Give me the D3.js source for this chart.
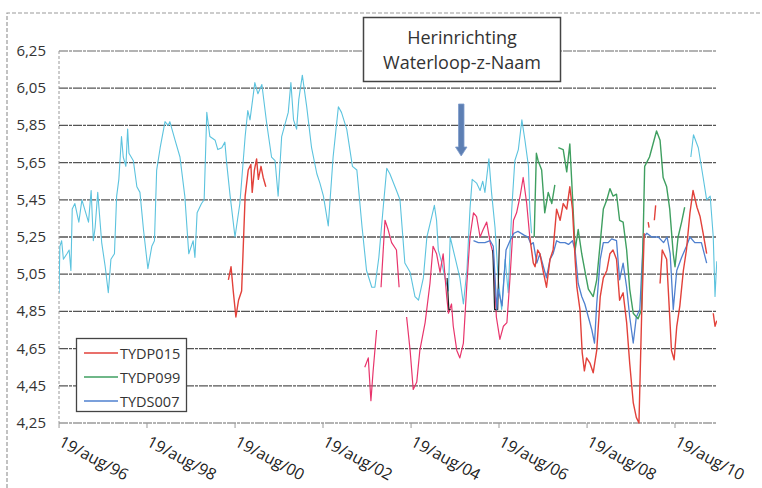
<!DOCTYPE html>
<html><head><meta charset="utf-8">
<script src="https://cdn.jsdelivr.net/npm/d3@7"></script>
<style>body{margin:0;background:#fff}svg{display:block}text{font-family:"Open Sans",sans-serif}</style>
</head><body><svg id="c" width="762" height="488"></svg>
<script>
// ---- data (decimal year, value); null = gap ----
const yTicks = [4.25,4.45,4.65,4.85,5.05,5.25,5.45,5.65,5.85,6.05,6.25];
const xTickYears = [1996,1998,2000,2002,2004,2006,2008,2010];
const xTickLabels = ["19/aug/96","19/aug/98","19/aug/00","19/aug/02","19/aug/04","19/aug/06","19/aug/08","19/aug/10"];
const legendNames = ["TYDP015","TYDP099","TYDS007"];
const annotation = ["Herinrichting","Waterloop-z-Naam"];

const cyanSeries = [[1996.63,4.95],[1996.65,5.20],[1996.69,5.23],[1996.73,5.13],[1996.81,5.16],[1996.86,5.18],[1996.90,5.07],[1996.93,5.40],[1996.99,5.43],[1997.08,5.33],[1997.15,5.45],[1997.30,5.33],[1997.36,5.50],[1997.41,5.23],[1997.45,5.30],[1997.51,5.49],[1997.60,5.22],[1997.68,5.09],[1997.75,4.95],[1997.81,5.13],[1997.89,5.16],[1997.94,5.47],[1997.99,5.56],[1998.05,5.79],[1998.09,5.68],[1998.15,5.63],[1998.19,5.83],[1998.22,5.70],[1998.32,5.66],[1998.40,5.52],[1998.47,5.49],[1998.55,5.29],[1998.65,5.08],[1998.74,5.20],[1998.80,5.23],[1998.85,5.61],[1998.93,5.73],[1999.04,5.87],[1999.11,5.85],[1999.15,5.87],[1999.27,5.77],[1999.38,5.68],[1999.49,5.47],[1999.58,5.16],[1999.68,5.23],[1999.72,5.14],[1999.77,5.38],[1999.87,5.43],[1999.93,5.45],[1999.99,5.92],[2000.06,5.79],[2000.18,5.77],[2000.24,5.72],[2000.33,5.73],[2000.40,5.76],[2000.44,5.65],[2000.52,5.47],[2000.63,5.25],[2000.74,5.43],[2000.86,5.79],[2000.92,5.93],[2000.97,5.88],[2001.08,6.08],[2001.15,6.02],[2001.24,6.07],[2001.35,5.86],[2001.46,5.68],[2001.54,5.66],[2001.61,5.47],[2001.69,5.79],[2001.77,5.86],[2001.84,5.92],[2001.90,6.08],[2001.96,5.88],[2002.03,5.83],[2002.08,5.99],[2002.16,6.12],[2002.26,5.95],[2002.37,5.73],[2002.49,5.59],[2002.56,5.54],[2002.64,5.47],[2002.75,5.31],[2002.86,5.68],[2002.98,5.95],[2003.05,5.92],[2003.17,5.83],[2003.30,5.63],[2003.40,5.61],[2003.52,5.30],[2003.62,5.07],[2003.74,4.98],[2003.81,4.98],[2003.90,5.14],[2004.00,5.41],[2004.08,5.62],[2004.15,5.59],[2004.30,5.50],[2004.38,5.45],[2004.49,5.11],[2004.61,5.06],[2004.72,4.93],[2004.80,4.91],[2004.91,5.03],[2004.99,5.25],[2005.10,5.36],[2005.16,5.42],[2005.21,5.34],[2005.25,5.18],[2005.33,5.11],[2005.40,5.03],[2005.48,4.96],[2005.52,5.25],[2005.63,5.14],[2005.74,5.03],[2005.82,4.89],[2005.90,5.07],[2005.97,5.40],[2006.02,5.56],[2006.12,5.54],[2006.20,5.50],[2006.26,5.55],[2006.31,5.49],[2006.40,5.67],[2006.46,5.49],[2006.54,5.30],[2006.61,5.03],[2006.69,4.86],[2006.77,5.13],[2006.84,4.95],[2006.92,5.40],[2006.99,5.66],[2007.07,5.72],[2007.15,5.88],[2007.22,5.77],[2007.30,5.63],[2007.33,5.40],[2007.37,5.27],null,[2010.99,5.68],[2011.05,5.80],[2011.16,5.73],[2011.27,5.57],[2011.35,5.45],[2011.43,5.47],[2011.50,5.25],[2011.54,4.93],[2011.58,5.12]];

const pinkSeries = [[2003.58,4.55],[2003.66,4.60],[2003.72,4.37],[2003.77,4.53],[2003.85,4.75],null,[2003.95,4.98],[2004.04,5.34],[2004.11,5.29],[2004.19,5.22],[2004.30,5.18],[2004.36,4.98],null,[2004.53,4.82],[2004.61,4.64],[2004.68,4.43],[2004.76,4.47],[2004.83,4.64],[2004.95,4.79],[2005.06,5.00],[2005.13,5.20],[2005.21,5.16],[2005.29,5.06],[2005.36,5.16],[2005.44,4.93],[2005.48,4.84],[2005.55,4.89],[2005.59,4.77],[2005.67,4.64],[2005.74,4.60],[2005.82,4.68],[2005.90,5.00],[2005.97,5.25],[2006.05,5.38],[2006.12,5.36],[2006.20,5.25],[2006.27,5.29],[2006.35,5.33],[2006.43,5.22],[2006.50,5.16],[2006.57,4.82],[2006.65,4.70],[2006.73,4.77],[2006.81,4.79],[2006.88,5.03],[2006.96,5.34],[2007.03,5.38],[2007.11,5.47],[2007.18,5.57],[2007.26,5.43],[2007.33,5.25]];

const tydp015 = [[2000.48,5.02],[2000.54,5.09],[2000.59,4.96],[2000.65,4.82],[2000.71,4.91],[2000.78,4.96],[2000.86,5.47],[2000.93,5.61],[2000.99,5.64],[2001.02,5.49],[2001.07,5.61],[2001.12,5.67],[2001.16,5.56],[2001.22,5.63],[2001.27,5.57],[2001.33,5.52],null,[2007.33,5.25],[2007.41,5.11],[2007.45,5.09],[2007.51,5.18],[2007.56,5.16],[2007.64,5.06],[2007.71,4.98],[2007.79,5.13],[2007.86,5.18],[2007.94,5.40],[2008.02,5.34],[2008.09,5.43],[2008.17,5.40],[2008.24,5.52],[2008.30,5.40],[2008.36,5.13],[2008.40,4.98],[2008.47,4.86],[2008.52,4.63],[2008.57,4.53],[2008.62,4.60],[2008.70,4.57],[2008.77,4.52],[2008.85,4.64],[2008.93,4.93],[2009.00,5.03],[2009.08,5.07],[2009.15,5.16],[2009.22,5.18],[2009.30,5.13],[2009.37,4.91],[2009.45,4.95],[2009.53,4.79],[2009.60,4.57],[2009.68,4.36],[2009.75,4.28],[2009.81,4.25],[2009.87,4.82],[2009.93,5.27],null,[2010.02,5.33],[2010.04,5.30],null,[2010.16,5.34],[2010.19,5.42],null,[2010.29,5.00],[2010.34,5.18],[2010.44,5.13],[2010.51,4.82],[2010.55,4.64],[2010.61,4.59],[2010.67,4.77],[2010.74,4.88],[2010.82,5.07],[2010.89,5.18],[2010.97,5.38],[2011.04,5.50],[2011.13,5.41],[2011.20,5.36],[2011.27,5.27],[2011.35,5.16],null,[2011.50,4.84],[2011.54,4.77],[2011.58,4.80]];

const tydp099 = [[2007.43,5.25],[2007.48,5.70],[2007.52,5.66],[2007.60,5.61],[2007.67,5.38],[2007.75,5.49],[2007.83,5.43],[2007.90,5.53],null,[2007.98,5.73],[2008.09,5.72],[2008.17,5.60],[2008.24,5.75],[2008.30,5.47],[2008.36,5.18],[2008.43,5.29],[2008.51,5.16],[2008.58,5.07],[2008.66,4.97],[2008.77,4.93],[2008.85,5.02],[2008.93,5.22],[2009.00,5.40],[2009.08,5.45],[2009.15,5.51],[2009.22,5.47],[2009.30,5.48],[2009.37,5.34],[2009.45,5.33],[2009.53,5.18],[2009.60,4.97],[2009.68,4.84],[2009.79,4.81],[2009.87,4.86],[2009.94,5.63],[2010.05,5.68],[2010.13,5.75],[2010.21,5.82],[2010.29,5.77],[2010.36,5.57],[2010.44,5.52],[2010.51,5.40],[2010.59,5.16],[2010.63,5.09],[2010.70,5.25],[2010.78,5.33],[2010.85,5.41]];

const tyds007 = [[2006.05,5.23],[2006.16,5.22],[2006.31,5.22],[2006.43,5.23],[2006.50,5.20],[2006.58,4.86],[2006.61,4.97],[2006.70,4.88],[2006.79,5.18],[2006.88,5.23],[2006.97,5.27],[2007.06,5.28],[2007.20,5.26],[2007.29,5.25],[2007.36,5.21],[2007.41,5.22],[2007.49,5.11],[2007.56,5.16],[2007.64,5.09],[2007.71,5.03],[2007.79,5.13],[2007.86,5.16],[2007.94,5.23],[2008.02,5.22],[2008.13,5.22],[2008.21,5.21],[2008.30,5.23],[2008.36,5.18],[2008.43,5.00],[2008.51,4.93],[2008.58,4.89],[2008.66,4.82],[2008.74,4.75],[2008.80,4.68],[2008.85,4.89],[2008.93,5.13],[2009.00,5.22],[2009.11,5.22],[2009.19,5.24],[2009.30,5.23],[2009.37,5.02],[2009.45,5.11],[2009.53,4.98],[2009.60,4.82],[2009.68,4.68],[2009.75,4.82],[2009.83,4.86],[2009.91,5.25],[2009.99,5.27],[2010.10,5.25],[2010.25,5.25],[2010.37,5.22],[2010.45,5.25],[2010.52,5.16],[2010.59,4.86],[2010.67,5.07],[2010.78,5.14],[2010.89,5.20],[2010.97,5.25],[2011.08,5.22],[2011.23,5.22],[2011.35,5.11]];

const blackSeries = [[2005.45,5.03],[2005.49,4.86],[2005.53,4.86],null,[2006.49,5.18],[2006.53,4.86],[2006.60,4.86],[2006.64,5.24]];

// ---- drawing ----
const svg = d3.select("#c");
const toDate = y => { const yr = Math.floor(y); const s = Date.UTC(yr,0,1), e = Date.UTC(yr+1,0,1); return new Date(s + (y-yr)*(e-s)); };
const x = d3.scaleUtc().domain([toDate(1996.63), toDate(2011.585)]).range([59, 717]);
const y = d3.scaleLinear().domain([4.25, 6.25]).range([423, 51]);

// outer frame
svg.append("path").attr("d","M7,488 L7,13 L762,13").attr("fill","none").attr("stroke","#9a9a9a").attr("stroke-width",1.2).attr("stroke-dasharray","4,2");

// gridlines
svg.append("g").selectAll("line").data(yTicks).join("line")
  .attr("x1",59).attr("x2",717).attr("y1",d=>y(d)).attr("y2",d=>y(d))
  .attr("stroke",(d,i)=> (i===0||i===yTicks.length-1) ? "#9a9a9a" : "#555")
  .attr("stroke-width",1.3).attr("stroke-dasharray","9,1,3,1");
// left axis
svg.append("line").attr("x1",59).attr("x2",59).attr("y1",51).attr("y2",423).attr("stroke","#999").attr("stroke-dasharray","3,2");
// y labels
svg.append("g").selectAll("text").data(yTicks).join("text")
  .attr("x",46).attr("y",d=>y(d)+5).attr("text-anchor","end").attr("font-size",15).attr("fill","#333")
  .text(d=>d3.format(".2f")(d).replace(".",","));
// x ticks & labels
const tickDates = xTickYears.map(yr=>new Date(Date.UTC(yr,7,19)));
svg.append("g").selectAll("line").data(tickDates).join("line")
  .attr("x1",d=>x(d)).attr("x2",d=>x(d)).attr("y1",423).attr("y2",428).attr("stroke","#999");
svg.append("g").selectAll("text").data(tickDates).join("text")
  .attr("transform",d=>`translate(${x(d)+1},${441}) rotate(28)`)
  .attr("font-size",16).attr("fill","#222").attr("dy","0.3em")
  .text((d,i)=>xTickLabels[i]);

// clip
svg.append("clipPath").attr("id","cp").append("rect").attr("x",59).attr("y",40).attr("width",658).attr("height",384);

const line = d3.line().defined(d=>d!==null).x(d=>x(toDate(d[0]))).y(d=>y(d[1]));
const g = svg.append("g").attr("clip-path","url(#cp)");
const series = [
  {data:cyanSeries,color:"#5cc3de",w:1.1},
  {data:pinkSeries,color:"#e8356c",w:1.2},
  {data:blackSeries,color:"#222",w:1.2},
  {data:tyds007,color:"#4f80cf",w:1.3},
  {data:tydp099,color:"#3f9f60",w:1.4},
  {data:tydp015,color:"#e2413a",w:1.4}
];
g.selectAll("path").data(series).join("path")
  .attr("d",s=>line(s.data)).attr("fill","none").attr("stroke",s=>s.color).attr("stroke-width",s=>s.w).attr("stroke-linejoin","round");

// arrow
svg.append("path").attr("d","M458.5,104 L464,104 L464,147 L467,147 L461.2,156 L455.5,147 L458.5,147 Z")
  .attr("fill","#5d7fb3").attr("stroke","#7f9ccb").attr("stroke-width",0.8);

// annotation box
svg.append("rect").attr("x",363.5).attr("y",17.5).attr("width",197).attr("height",64).attr("fill","#fff").attr("stroke","#444").attr("stroke-width",1.5);
svg.append("g").selectAll("text").data(annotation).join("text")
  .attr("x",462).attr("y",(d,i)=>44+i*25).attr("text-anchor","middle").attr("font-size",18).attr("fill","#333").text(d=>d);

// legend
const legColors = ["#e2413a","#3f9f60","#4f80cf"];
svg.append("rect").attr("x",76.5).attr("y",338.5).attr("width",110).attr("height",73).attr("fill","#fff").attr("stroke","#444").attr("stroke-width",1.3);
const lg = svg.append("g").selectAll("g").data(legendNames).join("g").attr("transform",(d,i)=>`translate(0,${353+i*24})`);
lg.append("line").attr("x1",84).attr("x2",118).attr("stroke",(d,i)=>legColors[i]).attr("stroke-width",1.4);
lg.append("text").attr("x",120).attr("y",5.5).attr("font-size",14.5).attr("fill","#333").text(d=>d);
</script></body></html>
